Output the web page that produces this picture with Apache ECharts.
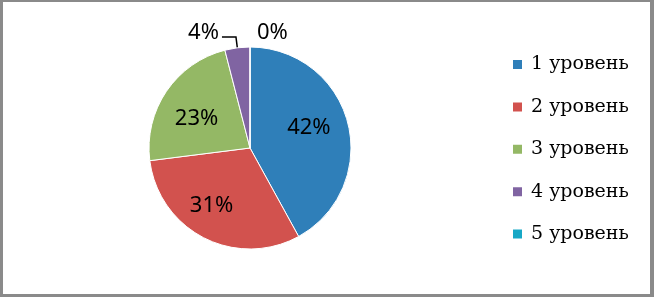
<!DOCTYPE html>
<html>
<head>
<meta charset="utf-8">
<script src="https://cdn.jsdelivr.net/npm/echarts@6/dist/echarts.min.js"></script>
<style>
html,body{margin:0;padding:0;background:#fff;}
#wrap{width:654px;height:297px;box-sizing:border-box;border-style:solid;border-color:#8a8a8a;border-width:2px 4px 3px 3px;background:#fff;}
#chart{width:100%;height:100%;}
</style>
</head>
<body>
<div id="wrap"><div id="chart"></div></div>
<script>
const categories = ['1 уровень', '2 уровень', '3 уровень', '4 уровень', '5 уровень'];
const values = [42, 31, 23, 4, 0];
const colors = ['#2F7FB9', '#D2524E', '#94B865', '#8064A2', '#17A8C6'];

const chart = echarts.init(document.getElementById('chart'));
const fmt = p => Math.round(p.percent) + '%';
const labelFont = { fontFamily: 'Noto Sans', fontSize: 22, color: '#000' };

// main pie: only outside labels for small slices
const mainData = categories.map((name, i) => {
  const item = { name: name, value: values[i], itemStyle: { color: colors[i] } };
  if (i >= 3) {
    item.label = { show: true };
    item.labelLine = { show: i === 3 };
  } else {
    item.label = { show: false };
    item.labelLine = { show: false };
  }
  return item;
});
// transparent helper pie to place inside labels further out
const labelData = categories.map((name, i) => ({
  name: name, value: values[i],
  itemStyle: { color: 'rgba(0,0,0,0)' },
  label: { show: i < 3 }
}));
const insideShift = [[-6, -4], [-8, -2], [2, 8], [0, 0], [0, 0]];

chart.setOption({
  animation: false,
  legend: {
    orient: 'vertical',
    left: 503,
    top: 48,
    itemWidth: 11,
    itemHeight: 11,
    itemGap: 23.4,
    icon: 'rect',
    selectedMode: false,
    textStyle: { fontFamily: 'DejaVu Serif', fontSize: 19, color: '#000', padding: [0, 0, 0, 3] },
    data: categories
  },
  series: [{
    type: 'pie',
    center: [247, 146],
    radius: 101,
    startAngle: 90,
    clockwise: true,
    avoidLabelOverlap: false,
    label: Object.assign({ position: 'outside', formatter: fmt }, labelFont),
    labelLine: {
      length: 11,
      length2: 14,
      lineStyle: { color: '#000', width: 1.5 }
    },
    labelLayout: function (p) {
      if (p.dataIndex === 4) return { dx: -12, dy: -3 };
      if (p.dataIndex === 3) return { dx: 2, dy: -4 };
      return {};
    },
    itemStyle: { borderColor: '#fff', borderWidth: 1 },
    emphasis: { disabled: true },
    data: mainData
  }, {
    type: 'pie',
    center: [247, 146],
    radius: 128,
    startAngle: 90,
    clockwise: true,
    silent: true,
    avoidLabelOverlap: false,
    legendHoverLink: false,
    label: Object.assign({ position: 'inside', formatter: fmt }, labelFont),
    labelLine: { show: false },
    labelLayout: function (p) {
      const s = insideShift[p.dataIndex];
      return { dx: s[0], dy: s[1] };
    },
    emphasis: { disabled: true },
    data: labelData
  }]
});
</script>
</body>
</html>
